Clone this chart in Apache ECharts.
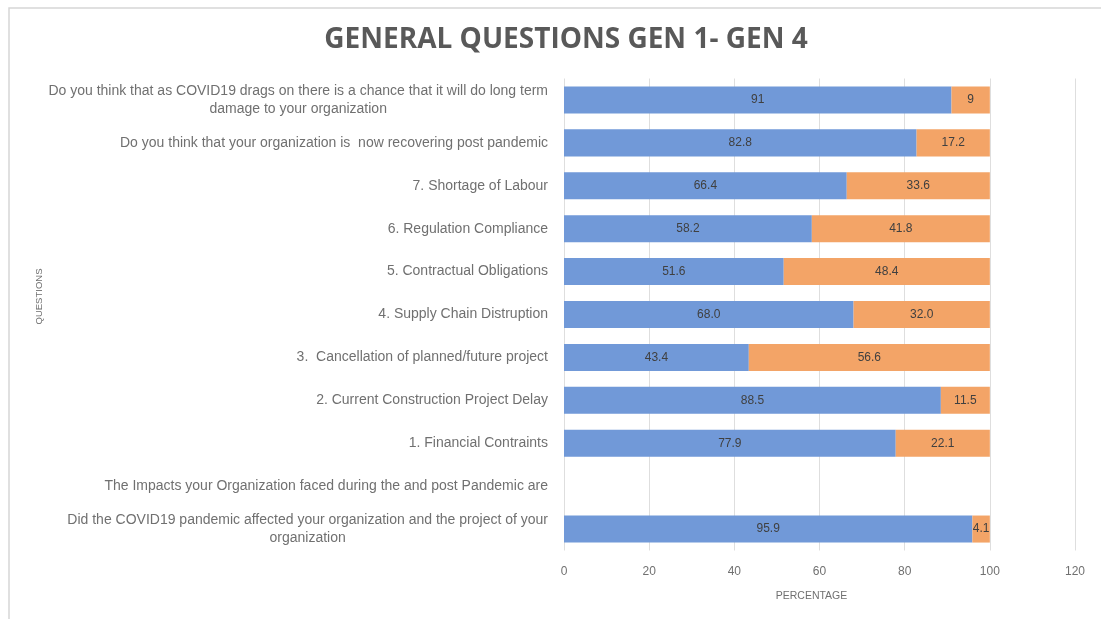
<!DOCTYPE html>
<html>
<head>
<meta charset="utf-8">
<title>General Questions GEN 1 - GEN 4</title>
<script src="https://cdn.jsdelivr.net/npm/echarts@6/dist/echarts.min.js"></script>
<style>
  html, body { margin: 0; padding: 0; background: #ffffff; }
  #chart { width: 1101px; height: 619px; }
</style>
</head>
<body>
<div id="chart"></div>
<script>
// Questions, listed top to bottom as they appear on the chart
const categories = [
  'Do you think that as COVID19 drags on there is a chance that it will do long term\ndamage to your organization',
  'Do you think that your organization is  now recovering post pandemic',
  '7. Shortage of Labour',
  '6. Regulation Compliance',
  '5. Contractual Obligations',
  '4. Supply Chain Distruption',
  '3.  Cancellation of planned/future project',
  '2. Current Construction Project Delay',
  '1. Financial Contraints',
  'The Impacts your Organization faced during the and post Pandemic are',
  'Did the COVID19 pandemic affected your organization and the project of your\norganization'
];

// Percentages per question (kept as text so labels keep their decimals)
const firstShare  = ['91', '82.8', '66.4', '58.2', '51.6', '68.0', '43.4', '88.5', '77.9', null, '95.9'];
const secondShare = ['9',  '17.2', '33.6', '41.8', '48.4', '32.0', '56.6', '11.5', '22.1', null, '4.1'];

// Percentage axis
const axisMin = 0;
const axisMax = 120;
const axisStep = 20;

const chart = echarts.init(document.getElementById('chart'), null, { renderer: 'canvas' });

const FONT = '"Liberation Sans", Arial, sans-serif';
const LABEL_GREY = '#707070';

function barLabel() {
  return {
    show: true,
    position: 'inside',
    color: '#404040',
    fontFamily: FONT,
    fontSize: 12,
    formatter: p => p.data
  };
}

chart.setOption({
  backgroundColor: '#ffffff',
  animation: false,
  title: {
    text: 'GENERAL QUESTIONS GEN 1- GEN 4',
    left: 561,
    top: 21,
    textAlign: 'center',
    textStyle: {
      fontFamily: '"Open Sans", ' + FONT,
      fontWeight: 'bold',
      fontSize: 28,
      color: '#595959'
    }
  },
  graphic: [{
    type: 'rect',
    shape: { x: 9, y: 8, width: 1110, height: 640 },
    style: { fill: 'none', stroke: '#d6d6d6', lineWidth: 1.5 },
    silent: true,
    z: -1
  }],
  grid: {
    left: 564,
    right: 26,
    top: 78.5,
    bottom: 68.5,
    containLabel: false
  },
  xAxis: {
    type: 'value',
    min: axisMin,
    max: axisMax,
    interval: axisStep,
    name: 'PERCENTAGE',
    nameLocation: 'middle',
    nameGap: 40,
    nameTextStyle: { fontFamily: FONT, fontSize: 10.5, color: LABEL_GREY, padding: [0, 16, 0, 0] },
    axisLine: { show: false },
    axisTick: { show: false },
    axisLabel: { fontFamily: FONT, fontSize: 12, color: LABEL_GREY, margin: 15 },
    splitLine: { show: true, lineStyle: { color: '#dedede', width: 1 } }
  },
  yAxis: {
    type: 'category',
    data: categories,
    inverse: true,
    name: 'QUESTIONS',
    nameLocation: 'middle',
    nameRotate: 90,
    nameGap: 520,
    nameTextStyle: { fontFamily: FONT, fontSize: 9.5, color: LABEL_GREY, padding: [0, 0, 0, 36] },
    axisLine: { show: false },
    axisTick: { show: false },
    splitLine: { show: false },
    axisLabel: {
      margin: 16,
      interval: 0,
      color: LABEL_GREY,
      fontFamily: FONT,
      fontSize: 14,
      formatter: v => v.split('\n').map(line => '{c|' + line + '}').join('\n'),
      rich: {
        c: {
          align: 'center',
          fontFamily: FONT,
          fontSize: 14,
          color: LABEL_GREY,
          lineHeight: 18
        }
      }
    }
  },
  series: [
    {
      name: 'Yes',
      type: 'bar',
      stack: 'share',
      barCategoryGap: '37%',
      data: firstShare,
      itemStyle: { color: '#7199d8' },
      label: barLabel()
    },
    {
      name: 'No',
      type: 'bar',
      stack: 'share',
      barCategoryGap: '37%',
      data: secondShare,
      itemStyle: { color: '#f3a467' },
      label: barLabel()
    }
  ]
});
</script>
</body>
</html>
